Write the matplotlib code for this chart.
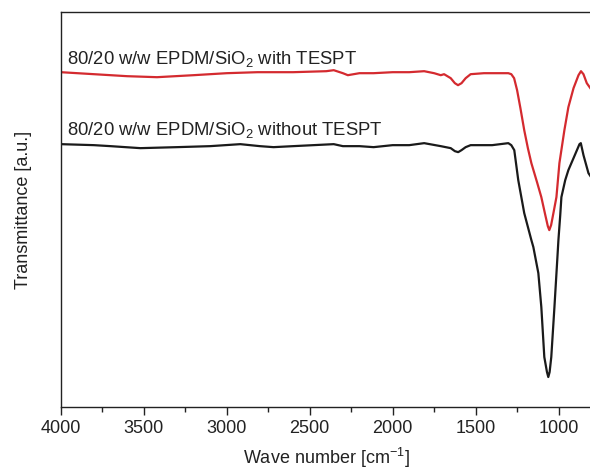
import matplotlib
matplotlib.use("Agg")
import matplotlib.pyplot as plt
from matplotlib.ticker import MultipleLocator

plt.rcParams['font.family'] = ['Liberation Sans', 'DejaVu Sans']
plt.rcParams['mathtext.fontset'] = 'custom'
plt.rcParams['mathtext.rm'] = 'Liberation Sans'
plt.rcParams['mathtext.it'] = 'Liberation Sans:italic'
plt.rcParams['mathtext.bf'] = 'Liberation Sans:bold'

# Wavenumber [cm-1] and transmittance (arbitrary units)
wn_red = [4000, 3800, 3600, 3420, 3200, 3000, 2815, 2600, 2400, 2355, 2300, 2270, 2200,
          2115, 2000, 1900, 1810, 1750, 1710, 1690, 1650, 1625, 1606, 1585, 1560, 1530,
          1450, 1350, 1303, 1285, 1268, 1250, 1230, 1207, 1185, 1164, 1130, 1104, 1080,
          1065, 1056, 1045, 1030, 1013, 995, 965, 941, 910, 880, 865, 850, 830, 800]
pix_red = [72, 74, 76, 77, 75, 73, 72, 72, 71, 70, 73, 75, 73,
           73, 72, 72, 71, 73, 75, 74, 78, 83, 85, 83, 78, 74,
           73, 73, 73, 74, 78, 90, 108, 130, 148, 163, 182, 197, 215,
           226, 230, 225, 212, 197, 163, 130, 107, 88, 75, 71, 74, 83, 90]

wn_black = [4000, 3800, 3700, 3520, 3300, 3100, 2918, 2800, 2718, 2600, 2355, 2300, 2200,
            2115, 2000, 1900, 1810, 1710, 1650, 1625, 1605, 1585, 1560, 1530, 1400, 1303,
            1285, 1267, 1255, 1243, 1207, 1164, 1152, 1122, 1104, 1086, 1070, 1062, 1054,
            1044, 1025, 1007, 1001, 990, 983, 960, 941, 910, 874, 866, 850, 820, 800]
pix_black = [144, 145, 146, 148, 147, 146, 144, 146, 147, 146, 144, 146, 146,
             147, 145, 145, 143, 146, 148, 151, 152, 150, 147, 145, 145, 143,
             145, 150, 165, 180, 213, 240, 247, 273, 307, 357, 372, 377, 372,
             357, 307, 257, 240, 215, 197, 180, 170, 158, 144, 143, 155, 173, 178]

T_red = [407 - p for p in pix_red]
T_black = [407 - p for p in pix_black]

label_red = r'80/20 w/w EPDM/SiO$_{2}$ with TESPT'
label_black = r'80/20 w/w EPDM/SiO$_{2}$ without TESPT'

fig = plt.figure(figsize=(5.9, 4.7), dpi=100)
ax = fig.add_axes([0.103, 0.134, 0.9, 0.84])

ax.plot(wn_red, T_red, color='#d42a2f', lw=1.6, solid_joinstyle='round')
ax.plot(wn_black, T_black, color='#1a1a1a', lw=1.6, solid_joinstyle='round')

ax.set_xlim(4000, 800)
ax.set_ylim(0, 395)
ax.xaxis.set_major_locator(MultipleLocator(500))
ax.xaxis.set_minor_locator(MultipleLocator(250))
ax.tick_params(axis='x', which='major', direction='out', length=6, width=1, labelsize=13, colors='#222222')
ax.tick_params(axis='x', which='minor', direction='out', length=3.5, width=1, colors='#222222')
ax.set_yticks([])
for s in ax.spines.values():
    s.set_color('#222222')
    s.set_linewidth(1.0)

ax.text(0.012, 0.87, label_red, transform=ax.transAxes, fontsize=13.3, color='#222222', va='baseline')
ax.text(0.012, 0.688, label_black, transform=ax.transAxes, fontsize=13.3, color='#222222', va='baseline')

ax.set_xlabel(r'Wave number [cm$^{\mathregular{-1}}$]', fontsize=13, color='#222222', labelpad=6)
ax.set_ylabel('Transmittance [a.u.]', fontsize=13, color='#222222')
ax.yaxis.set_label_coords(-0.055, 0.5)

fig.savefig('out.png', dpi=100)
